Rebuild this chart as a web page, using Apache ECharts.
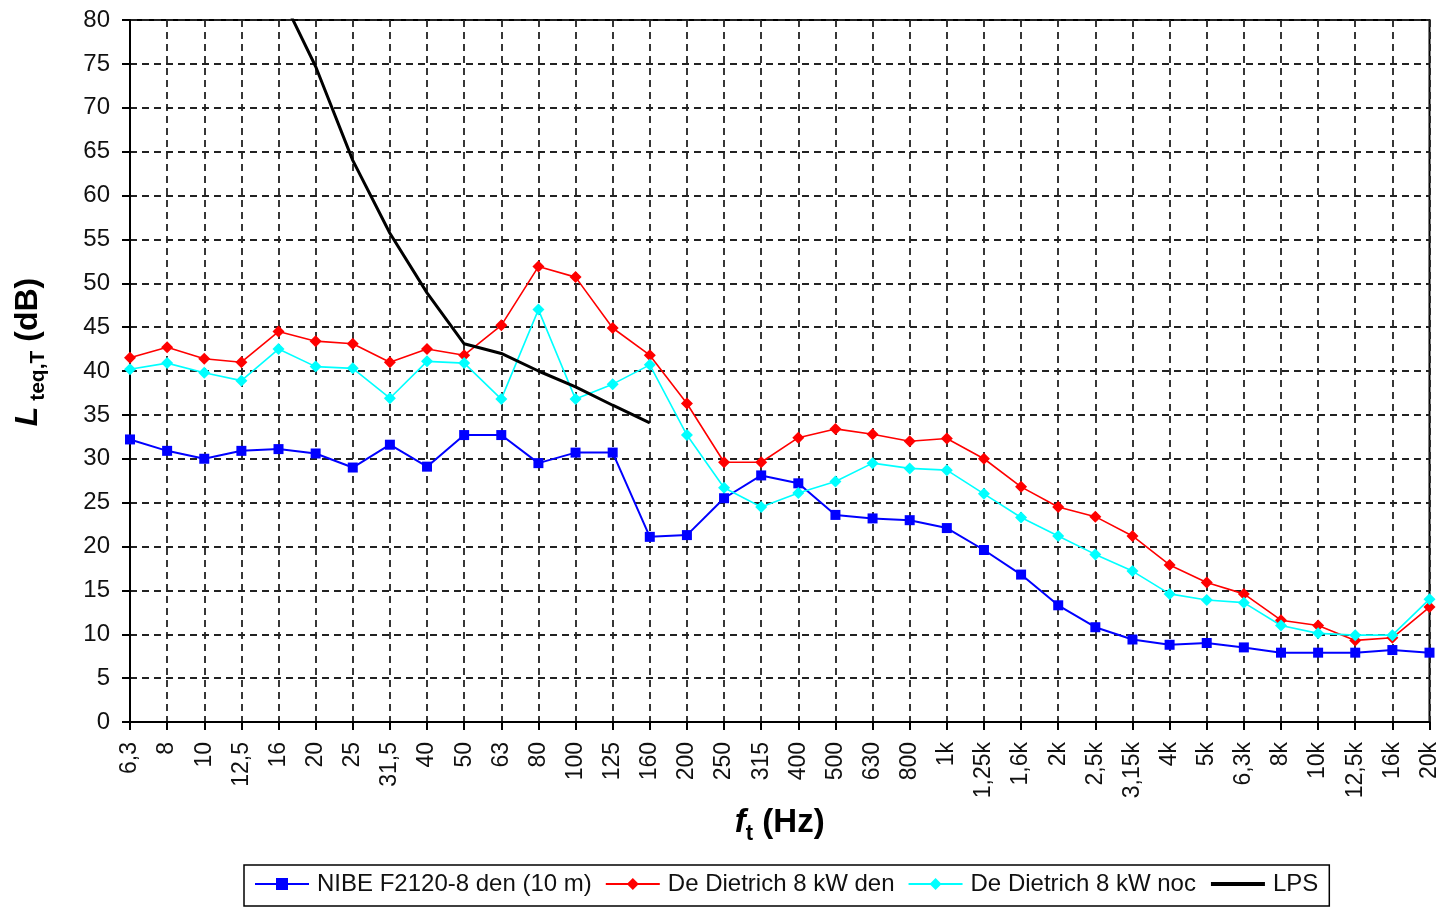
<!DOCTYPE html>
<html>
<head>
<meta charset="utf-8">
<script src="https://cdn.jsdelivr.net/npm/echarts@6/dist/echarts.min.js"></script>
<style>
html,body{margin:0;padding:0;background:#fff;}
#chart{width:1441px;height:907px;}
</style>
</head>
<body>
<div id="chart"></div>
<script>
var categories = ['6,3','8','10','12,5','16','20','25','31,5','40','50','63','80','100','125','160','200','250','315','400','500','630','800','1k','1,25k','1,6k','2k','2,5k','3,15k','4k','5k','6,3k','8k','10k','12,5k','16k','20k'];
var nibeDen = [32.2,30.9,30.0,30.9,31.1,30.6,29.0,31.6,29.1,32.7,32.7,29.5,30.7,30.7,21.1,21.3,25.5,28.1,27.2,23.6,23.2,23.0,22.1,19.6,16.8,13.3,10.8,9.4,8.8,9.0,8.5,7.9,7.9,7.9,8.2,7.9];
var dietrichDen = [41.5,42.7,41.4,41.0,44.5,43.4,43.1,41.0,42.5,41.8,45.2,51.9,50.7,44.9,41.8,36.3,29.6,29.6,32.4,33.4,32.8,32.0,32.3,30.0,26.8,24.5,23.4,21.2,17.9,15.9,14.6,11.6,11.0,9.3,9.6,13.1];
var dietrichNoc = [40.2,40.9,39.8,38.9,42.5,40.5,40.3,36.9,41.1,40.9,36.8,47.0,36.8,38.5,40.7,32.7,26.7,24.5,26.1,27.4,29.5,28.9,28.7,26.0,23.3,21.2,19.1,17.2,14.6,13.9,13.6,11.0,10.1,9.9,9.9,14.0];
var lps = [null,null,null,null,83.4,74.7,64.0,55.7,48.9,43.1,42.0,40.0,38.2,36.1,34.1,null,null,null,null,null,null,null,null,null,null,null,null,null,null,null,null,null,null,null,null,null];
var seriesNames = ['NIBE F2120-8 den (10 m)','De Dietrich 8 kW den','De Dietrich 8 kW noc','LPS'];

var chart = echarts.init(document.getElementById('chart'), null, {renderer:'canvas'});
var font = "'Liberation Sans', Arial, sans-serif";
var dash = {type:[7,5], color:'#222', width:1.8};
chart.setOption({
  animation:false,
  backgroundColor:'#fff',
  textStyle:{fontFamily:font},
  grid:{left:130, right:9, top:20, bottom:185, show:true, borderColor:'#000', borderWidth:2, backgroundColor:'#fff'},
  legend:{
    left:244, top:865, orient:'horizontal',
    itemWidth:54, itemHeight:15, itemGap:13,
    padding:[7,11,10,10],
    borderColor:'#000', borderWidth:1.5,
    textStyle:{fontSize:24, color:'#111', fontFamily:font, padding:[0,0,0,3]},
    data:[
      seriesNames[0], seriesNames[1], seriesNames[2],
      {name:seriesNames[3], itemStyle:{opacity:0}, lineStyle:{width:4}}
    ]
  },
  xAxis:{
    type:'category', data:categories, boundaryGap:false,
    axisLine:{lineStyle:{color:'#000', width:2}},
    axisTick:{show:true, length:8, interval:0, lineStyle:{color:'#000', width:2}},
    axisLabel:{interval:0, rotate:90, fontSize:23, margin:20, color:'#111', fontFamily:font},
    splitLine:{show:true, interval:0, lineStyle:dash},
    name:'{f|f}{s|t}{n| (Hz)}', nameLocation:'middle', nameGap:82,
    nameTextStyle:{fontFamily:font, rich:{
      f:{fontSize:33, fontWeight:'bold', fontStyle:'italic', lineHeight:36, verticalAlign:'top', color:'#000', fontFamily:font},
      s:{fontSize:22, fontWeight:'bold', lineHeight:24, padding:[17,0,0,0], verticalAlign:'top', color:'#000', fontFamily:font},
      n:{fontSize:33, fontWeight:'bold', lineHeight:36, verticalAlign:'top', color:'#000', fontFamily:font}
    }}
  },
  yAxis:{
    type:'value', min:0, max:80, interval:5,
    axisLine:{show:true, lineStyle:{color:'#000', width:2}},
    axisTick:{show:true, length:8, lineStyle:{color:'#000', width:2}},
    axisLabel:{fontSize:24, margin:20, color:'#111', fontFamily:font},
    splitLine:{show:true, lineStyle:dash},
    name:'{l|L}{s| teq,T}{n| (dB)}', nameLocation:'middle', nameGap:84,
    nameTextStyle:{fontFamily:font, padding:[0,0,0,38], rich:{
      l:{fontSize:32, fontWeight:'bold', fontStyle:'italic', lineHeight:34, verticalAlign:'top', color:'#000', fontFamily:font},
      s:{fontSize:21, fontWeight:'bold', lineHeight:24, padding:[16,0,0,0], verticalAlign:'top', color:'#000', fontFamily:font},
      n:{fontSize:32, fontWeight:'bold', lineHeight:34, verticalAlign:'top', color:'#000', fontFamily:font}
    }}
  },
  series:[
    {name:seriesNames[0], type:'line', data:nibeDen, symbol:'rect', symbolSize:10,
     lineStyle:{color:'#0000ff', width:2}, itemStyle:{color:'#0000ff'}},
    {name:seriesNames[1], type:'line', data:dietrichDen, symbol:'diamond', symbolSize:12,
     lineStyle:{color:'#ff0000', width:1.6}, itemStyle:{color:'#ff0000'}},
    {name:seriesNames[2], type:'line', data:dietrichNoc, symbol:'diamond', symbolSize:12,
     lineStyle:{color:'#00ffff', width:1.6}, itemStyle:{color:'#00ffff'}},
    {name:seriesNames[3], type:'line', data:lps, symbol:'none', clip:true, connectNulls:false,
     lineStyle:{color:'#000', width:3}, itemStyle:{color:'#000'}}
  ]
});
</script>
</body>
</html>
